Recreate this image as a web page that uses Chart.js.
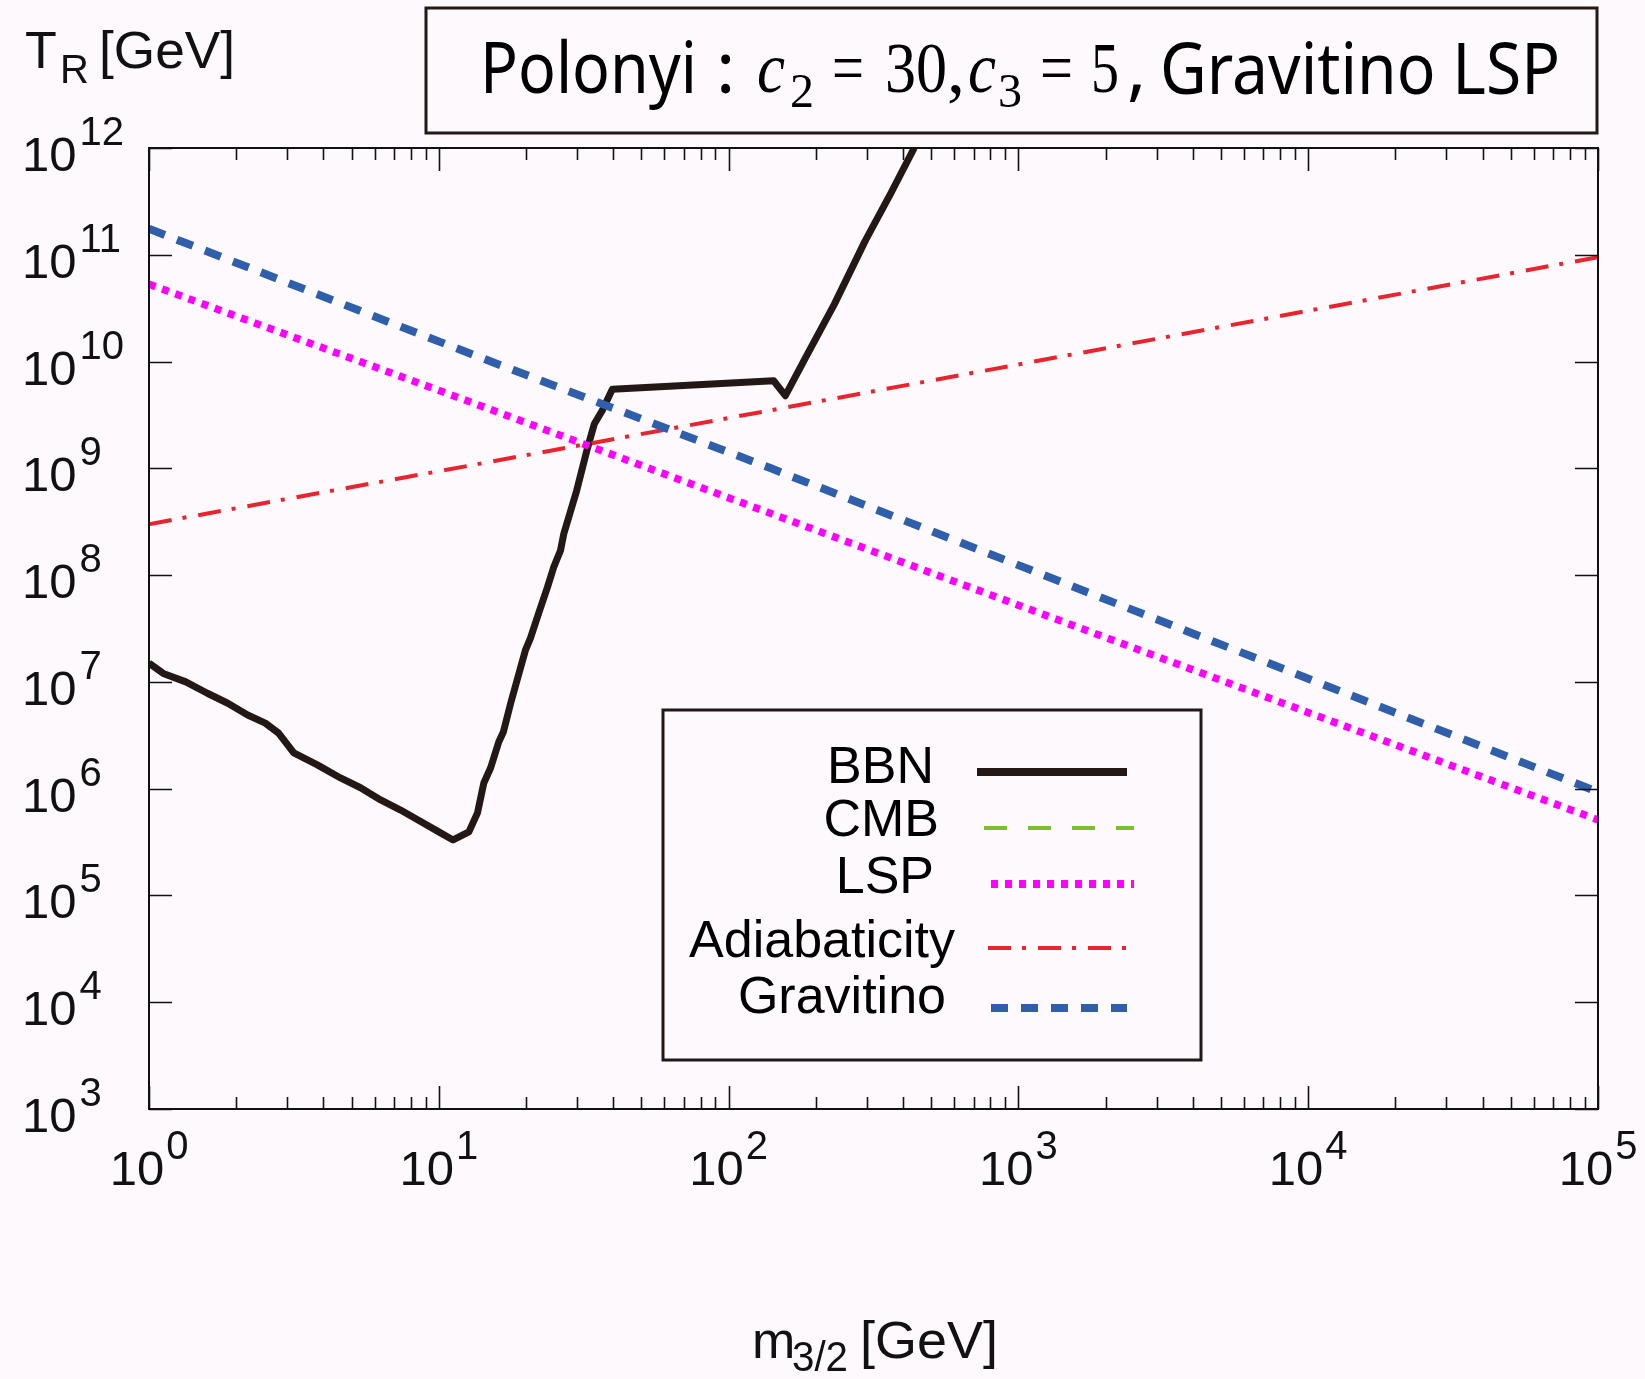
<!DOCTYPE html>
<html>
<head>
<meta charset="utf-8">
<script src="https://cdn.jsdelivr.net/npm/chart.js@4.4.1/dist/chart.umd.min.js"></script>
<style>
  html, body { margin: 0; padding: 0; background: #fdf9fd; }
  canvas { display: block; }
</style>
</head>
<body>
<canvas id="chart-1" width="1645" height="1379"></canvas>
<script>
// m_3/2 [GeV] and T_R [GeV]
const bbnMass = [1, 1.12, 1.34, 1.59, 1.87, 2.19, 2.52, 2.80, 3.16, 3.81, 4.58, 5.37, 6.30, 7.38, 8.45,
  10.0, 11.2, 12.7, 13.6, 14.3, 15.1, 16.1, 16.7, 17.7, 18.7, 19.9, 20.7, 22.1, 23.7, 24.9, 26.3,
  27.0, 29.9, 32.4, 34.4, 36.6, 39.7, 143, 157, 182, 232, 296, 362, 437];
const bbnTR = [1.50e7, 1.20e7, 1.00e7, 7.83e6, 6.31e6, 4.90e6, 4.11e6, 3.31e6, 2.16e6, 1.67e6, 1.26e6, 1.02e6, 7.85e5, 6.31e5, 5.11e5,
  3.94e5, 3.31e5, 3.94e5, 5.93e5, 1.13e6, 1.57e6, 2.74e6, 3.39e6, 6.31e6, 1.08e7, 1.98e7, 2.56e7, 4.39e7, 7.67e7, 1.18e8, 1.70e8,
  2.44e8, 6.17e8, 1.46e9, 2.60e9, 3.47e9, 5.50e9, 6.61e9, 4.79e9, 1.02e10, 3.47e10, 1.35e11, 3.72e11, 1.0e12];
const cmbMass = [];
const cmbTR = [];
const lspMass = [1, 12.5, 115, 1e5];
const lspTR = [5.3e10, 4.3e9, 4.6e8, 5.1e5];
const adiMass = [1, 12.5, 140, 1e5];
const adiTR = [3.0e8, 1.05e9, 3.5e9, 9.5e10];
const gravMass = [1, 12.5, 140, 1e5];
const gravTR = [1.75e11, 1.22e10, 1.0e9, 9.3e5];

const xTickExp = [0, 1, 2, 3, 4, 5];
const yTickExp = [3, 4, 5, 6, 7, 8, 9, 10, 11, 12];
const seriesNames = ['BBN', 'CMB', 'LSP', 'Adiabaticity', 'Gravitino'];

const pts = (xs, ys) => xs.map((x, i) => ({ x: x, y: ys[i] }));

const looks = [
  { color: '#231815', width: 7, dash: [], lw: 8 },
  { color: '#7dbe2f', width: 4, dash: [23, 21], lw: 4 },
  { color: '#ff00ff', width: 7.5, dash: [7, 7], lw: 8 },
  { color: '#e8242f', width: 4, dash: [23, 11, 4, 12], lw: 4 },
  { color: '#2f5fab', width: 8, dash: [17, 13], lw: 8 }
];
const allData = [pts(bbnMass, bbnTR), pts(cmbMass, cmbTR), pts(lspMass, lspTR), pts(adiMass, adiTR), pts(gravMass, gravTR)];

const BG = '#fdf9fd';
const SANS = '"Liberation Sans", Arial, Helvetica, sans-serif';

function run(c, text, x, y, font, w) {
  c.save();
  c.font = font;
  c.translate(x, y);
  if (w) c.scale(w / c.measureText(text).width, 1);
  c.fillText(text, 0, 0);
  c.restore();
}

const decor = {
  id: 'decor',
  beforeDraw(chart) {
    const c = chart.ctx;
    c.save();
    c.fillStyle = BG;
    c.fillRect(0, 0, chart.width, chart.height);
    c.restore();
  },
  afterDatasetsDraw(chart) {
    const c = chart.ctx;
    const a = chart.chartArea;
    const xs = chart.scales.x, ys = chart.scales.y;
    c.save();
    c.strokeStyle = '#111';
    c.fillStyle = '#111';
    c.setLineDash([]);

    // ticks, pointing inward on all four sides
    c.lineWidth = 1.6;
    c.beginPath();
    xTickExp.forEach(e => {
      const px = Math.round(xs.getPixelForValue(Math.pow(10, e))) + 0.5;
      c.moveTo(px, a.bottom); c.lineTo(px, a.bottom - 23);
      c.moveTo(px, a.top); c.lineTo(px, a.top + 23);
      if (e < 5) {
        for (let j = 2; j <= 9; j++) {
          const q = Math.round(xs.getPixelForValue(j * Math.pow(10, e))) + 0.5;
          c.moveTo(q, a.bottom); c.lineTo(q, a.bottom - 12);
          c.moveTo(q, a.top); c.lineTo(q, a.top + 12);
        }
      }
    });
    yTickExp.forEach(e => {
      const py = Math.round(ys.getPixelForValue(Math.pow(10, e))) + 0.5;
      c.moveTo(a.left, py); c.lineTo(a.left + 23, py);
      c.moveTo(a.right, py); c.lineTo(a.right - 23, py);
    });
    c.stroke();

    // frame
    c.lineWidth = 2;
    c.strokeRect(a.left, a.top, a.right - a.left, a.bottom - a.top);

    // tick labels 10^n
    const fb = '49px ' + SANS, fe = '40px ' + SANS;
    c.textBaseline = 'alphabetic';
    xTickExp.forEach(e => {
      const px = xs.getPixelForValue(Math.pow(10, e));
      c.font = fb; const wb = c.measureText('10').width;
      c.font = fe; const we = c.measureText(String(e)).width;
      const x0 = px - (wb + 2 + we) / 2;
      c.font = fb; c.fillText('10', x0, a.bottom + 76);
      c.font = fe; c.fillText(String(e), x0 + wb + 2, a.bottom + 50);
    });
    yTickExp.forEach(e => {
      const py = ys.getPixelForValue(Math.pow(10, e));
      c.font = fb; const wb = c.measureText('10').width;
      c.fillText('10', 22, py + 23);
      c.font = fe; c.fillText(String(e), 22 + wb + 3, py - 3);
    });

    // axis titles
    run(c, 'T', 25, 68, '52px ' + SANS);
    run(c, 'R', 60, 83, '40px ' + SANS);
    run(c, '[GeV]', 99, 68, '52px ' + SANS, 136);
    run(c, 'm', 752, 1358, '52px ' + SANS);
    run(c, '3/2', 792, 1371, '42px ' + SANS, 56);
    run(c, '[GeV]', 860, 1358, '52px ' + SANS, 138);

    // title box
    c.lineWidth = 3;
    c.strokeStyle = '#231815';
    c.strokeRect(426, 8, 1171, 125);
    const TS = '72px "Noto Sans", sans-serif';
    const SR = '72px "Liberation Serif", "Times New Roman", serif';
    const SI = 'italic 72px "Liberation Serif", "Times New Roman", serif';
    const SS = '48px "Liberation Serif", "Times New Roman", serif';
    c.fillStyle = '#000';
    run(c, 'Polonyi', 480, 93, TS, 217);
    run(c, ':', 716, 93, TS);
    run(c, 'c', 757, 92, SI, 28);
    run(c, '2', 790, 107, SS);
    run(c, '=', 832, 92, SR, 32);
    run(c, '30', 885, 92, SR, 62);
    run(c, ',', 947, 92, SR);
    run(c, 'c', 968, 92, SI, 28);
    run(c, '3', 998, 107, SS);
    run(c, '=', 1040, 92, SR, 33);
    run(c, '5', 1091, 92, SR, 28);
    run(c, ',', 1127, 93, TS);
    run(c, 'Gravitino LSP', 1160, 94, TS, 400);

    // legend box
    c.fillStyle = BG;
    c.fillRect(663, 710, 538, 350);
    c.strokeStyle = '#231815';
    c.lineWidth = 3;
    c.strokeRect(663, 710, 538, 350);
    const textRight = [934, 939, 934, 955, 946];
    const textBase = [783, 836, 893, 957, 1013];
    const lineX = [[977, 1127], [984, 1134], [991, 1134], [988, 1138], [991, 1127]];
    const lineY = [772, 828, 884, 948, 1008];
    c.font = '52px ' + SANS;
    c.textAlign = 'right';
    seriesNames.forEach((n, i) => {
      c.fillStyle = '#000';
      c.fillText(n, textRight[i], textBase[i]);
      c.strokeStyle = looks[i].color;
      c.lineWidth = looks[i].lw;
      c.setLineDash(looks[i].dash);
      c.beginPath();
      c.moveTo(lineX[i][0], lineY[i]);
      c.lineTo(lineX[i][1], lineY[i]);
      c.stroke();
    });
    c.restore();
  }
};

new Chart(document.getElementById('chart-1'), {
  type: 'line',
  data: {
    datasets: seriesNames.map((n, i) => ({
      label: n,
      data: allData[i],
      borderColor: looks[i].color,
      backgroundColor: looks[i].color,
      borderWidth: looks[i].width,
      borderDash: looks[i].dash,
      borderJoinStyle: i === 0 ? 'round' : 'miter',
      pointRadius: 0,
      tension: 0,
      fill: false,
      order: seriesNames.length - i
    }))
  },
  options: {
    responsive: false,
    animation: false,
    events: [],
    layout: { padding: { left: 149, top: 148, right: 47, bottom: 270 } },
    plugins: { legend: { display: false }, tooltip: { enabled: false }, title: { display: false } },
    scales: {
      x: { type: 'logarithmic', min: 1, max: 1e5, display: false },
      y: { type: 'logarithmic', min: 1e3, max: 1e12, display: false }
    }
  },
  plugins: [decor]
});
</script>
</body>
</html>
